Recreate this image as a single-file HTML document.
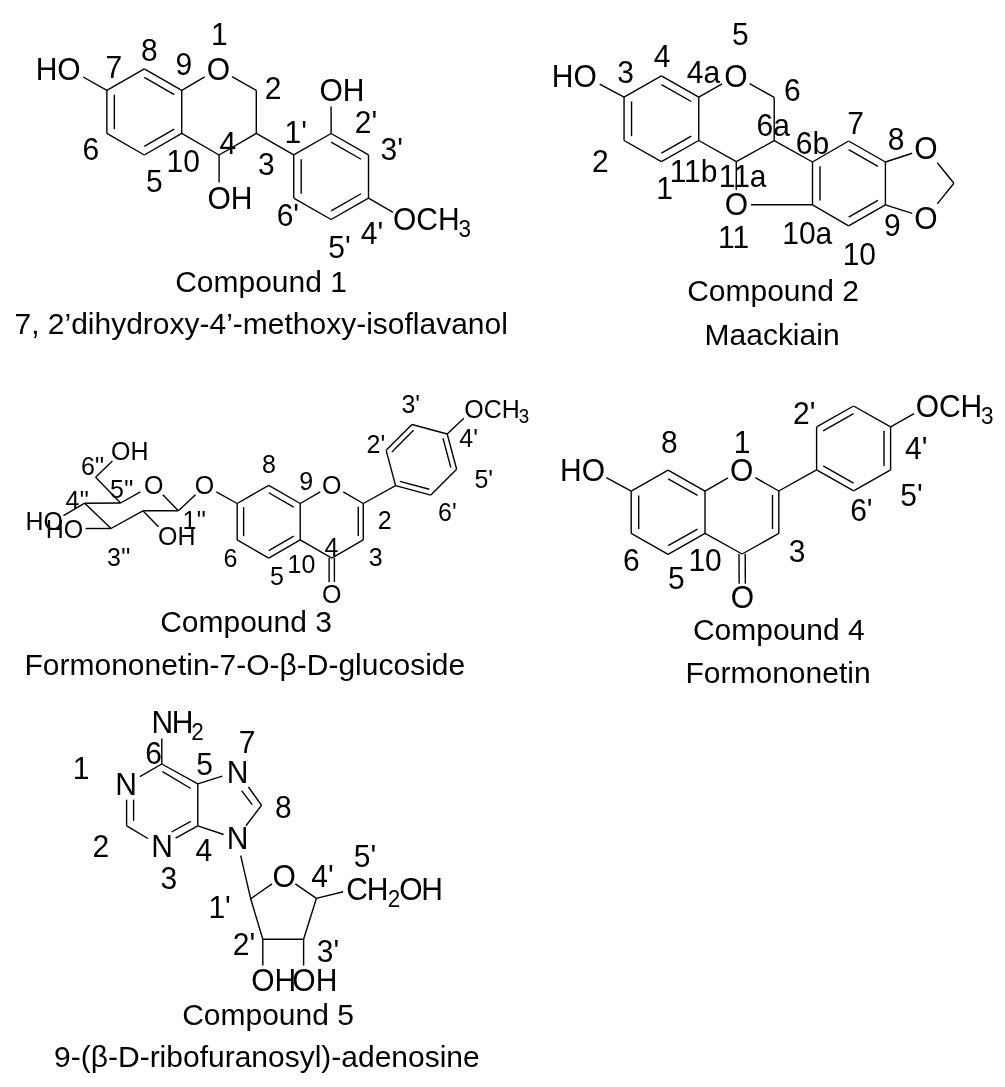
<!DOCTYPE html>
<html lang="en"><head><meta charset="utf-8"><title>Compounds 1-5</title>
<style>html,body{margin:0;padding:0;background:#fff}body{width:1005px;height:1087px;overflow:hidden}svg{display:block}text{font-family:"Liberation Sans",sans-serif;fill:#000}</style></head><body>
<svg width="1005" height="1087" viewBox="0 0 1005 1087" role="img" aria-label="Chemical structures of compounds 1 to 5">
<rect width="1005" height="1087" fill="#fff"/>
<g stroke="#000" stroke-linecap="butt" fill="none">
<line x1="144.30" y1="68.80" x2="181.75" y2="90.35" stroke-width="1.40"/>
<line x1="181.75" y1="90.35" x2="181.75" y2="133.45" stroke-width="1.40"/>
<line x1="181.75" y1="133.45" x2="144.30" y2="155.00" stroke-width="1.40"/>
<line x1="144.30" y1="155.00" x2="106.85" y2="133.45" stroke-width="1.40"/>
<line x1="106.85" y1="133.45" x2="106.85" y2="90.35" stroke-width="1.40"/>
<line x1="106.85" y1="90.35" x2="144.30" y2="68.80" stroke-width="1.40"/>
<line x1="114.35" y1="94.68" x2="114.35" y2="129.12" stroke-width="1.40"/>
<line x1="144.31" y1="77.46" x2="174.26" y2="94.69" stroke-width="1.40"/>
<line x1="174.26" y1="129.11" x2="144.31" y2="146.34" stroke-width="1.40"/>
<line x1="181.75" y1="90.35" x2="204.69" y2="76.82" stroke-width="1.40"/>
<line x1="232.04" y1="76.59" x2="256.30" y2="90.35" stroke-width="1.40"/>
<line x1="256.30" y1="90.35" x2="256.30" y2="133.45" stroke-width="1.40"/>
<line x1="256.30" y1="133.45" x2="219.10" y2="155.00" stroke-width="1.40"/>
<line x1="219.10" y1="155.00" x2="181.75" y2="133.45" stroke-width="1.40"/>
<line x1="106.85" y1="90.35" x2="83.20" y2="77.01" stroke-width="1.40"/>
<line x1="219.10" y1="155.00" x2="219.10" y2="182.60" stroke-width="1.40"/>
<line x1="331.10" y1="133.50" x2="368.50" y2="154.90" stroke-width="1.40"/>
<line x1="368.50" y1="154.90" x2="368.50" y2="198.10" stroke-width="1.40"/>
<line x1="368.50" y1="198.10" x2="331.10" y2="219.50" stroke-width="1.40"/>
<line x1="331.10" y1="219.50" x2="293.70" y2="198.10" stroke-width="1.40"/>
<line x1="293.70" y1="198.10" x2="293.70" y2="154.90" stroke-width="1.40"/>
<line x1="293.70" y1="154.90" x2="331.10" y2="133.50" stroke-width="1.40"/>
<line x1="301.20" y1="159.23" x2="301.20" y2="193.77" stroke-width="1.40"/>
<line x1="331.13" y1="142.16" x2="361.02" y2="159.26" stroke-width="1.40"/>
<line x1="361.02" y1="193.74" x2="331.13" y2="210.84" stroke-width="1.40"/>
<line x1="256.30" y1="133.45" x2="293.70" y2="154.90" stroke-width="1.40"/>
<line x1="331.10" y1="133.50" x2="331.10" y2="106.40" stroke-width="1.40"/>
<line x1="368.50" y1="198.10" x2="393.04" y2="212.40" stroke-width="1.40"/>
<line x1="661.40" y1="75.90" x2="698.75" y2="97.10" stroke-width="1.40"/>
<line x1="698.75" y1="97.10" x2="698.75" y2="140.50" stroke-width="1.40"/>
<line x1="698.75" y1="140.50" x2="661.40" y2="161.70" stroke-width="1.40"/>
<line x1="661.40" y1="161.70" x2="624.05" y2="140.50" stroke-width="1.40"/>
<line x1="624.05" y1="140.50" x2="624.05" y2="97.10" stroke-width="1.40"/>
<line x1="624.05" y1="97.10" x2="661.40" y2="75.90" stroke-width="1.40"/>
<line x1="631.55" y1="101.43" x2="631.55" y2="136.17" stroke-width="1.40"/>
<line x1="661.46" y1="84.56" x2="691.28" y2="101.49" stroke-width="1.40"/>
<line x1="691.28" y1="136.11" x2="661.46" y2="153.04" stroke-width="1.40"/>
<line x1="698.75" y1="97.10" x2="722.07" y2="83.82" stroke-width="1.40"/>
<line x1="749.60" y1="83.69" x2="774.20" y2="97.40" stroke-width="1.40"/>
<line x1="774.20" y1="97.40" x2="774.20" y2="140.70" stroke-width="1.40"/>
<line x1="774.20" y1="140.70" x2="736.30" y2="161.60" stroke-width="1.40"/>
<line x1="736.30" y1="161.60" x2="698.75" y2="140.50" stroke-width="1.40"/>
<line x1="624.05" y1="97.10" x2="599.65" y2="84.07" stroke-width="1.40"/>
<line x1="736.30" y1="161.60" x2="736.30" y2="189.90" stroke-width="1.40"/>
<line x1="848.60" y1="141.00" x2="885.40" y2="162.00" stroke-width="1.40"/>
<line x1="885.40" y1="162.00" x2="885.40" y2="204.80" stroke-width="1.40"/>
<line x1="885.40" y1="204.80" x2="848.60" y2="225.80" stroke-width="1.40"/>
<line x1="848.60" y1="225.80" x2="812.50" y2="204.80" stroke-width="1.40"/>
<line x1="812.50" y1="204.80" x2="812.50" y2="162.00" stroke-width="1.40"/>
<line x1="812.50" y1="162.00" x2="848.60" y2="141.00" stroke-width="1.40"/>
<line x1="820.00" y1="166.33" x2="820.00" y2="200.47" stroke-width="1.40"/>
<line x1="848.64" y1="149.66" x2="877.92" y2="166.37" stroke-width="1.40"/>
<line x1="877.92" y1="200.43" x2="848.64" y2="217.14" stroke-width="1.40"/>
<line x1="774.20" y1="140.70" x2="812.50" y2="162.00" stroke-width="1.40"/>
<line x1="751.00" y1="204.80" x2="812.50" y2="204.80" stroke-width="1.40"/>
<line x1="885.40" y1="162.00" x2="912.22" y2="153.21" stroke-width="1.40"/>
<line x1="885.40" y1="204.80" x2="912.20" y2="213.45" stroke-width="1.40"/>
<line x1="937.30" y1="162.71" x2="953.90" y2="183.30" stroke-width="1.40"/>
<line x1="937.30" y1="203.89" x2="953.90" y2="183.30" stroke-width="1.40"/>
<line x1="268.70" y1="485.30" x2="300.22" y2="503.50" stroke-width="1.40"/>
<line x1="300.22" y1="503.50" x2="300.22" y2="539.90" stroke-width="1.40"/>
<line x1="300.22" y1="539.90" x2="268.70" y2="558.10" stroke-width="1.40"/>
<line x1="268.70" y1="558.10" x2="237.18" y2="539.90" stroke-width="1.40"/>
<line x1="237.18" y1="539.90" x2="237.18" y2="503.50" stroke-width="1.40"/>
<line x1="237.18" y1="503.50" x2="268.70" y2="485.30" stroke-width="1.40"/>
<line x1="243.63" y1="507.22" x2="243.63" y2="536.18" stroke-width="1.40"/>
<line x1="268.70" y1="492.75" x2="293.77" y2="507.22" stroke-width="1.40"/>
<line x1="293.77" y1="536.18" x2="268.70" y2="550.65" stroke-width="1.40"/>
<line x1="300.22" y1="503.50" x2="320.23" y2="491.95" stroke-width="1.40"/>
<line x1="343.26" y1="491.95" x2="363.27" y2="503.50" stroke-width="1.40"/>
<line x1="363.27" y1="503.50" x2="363.27" y2="539.90" stroke-width="1.40"/>
<line x1="363.27" y1="539.90" x2="331.75" y2="558.10" stroke-width="1.40"/>
<line x1="331.75" y1="558.10" x2="300.22" y2="539.90" stroke-width="1.40"/>
<line x1="358.27" y1="506.80" x2="358.27" y2="536.00" stroke-width="1.40"/>
<line x1="334.40" y1="558.10" x2="334.40" y2="582.00" stroke-width="1.40"/>
<line x1="329.10" y1="558.10" x2="329.10" y2="582.00" stroke-width="1.40"/>
<line x1="395.59" y1="485.61" x2="386.14" y2="450.35" stroke-width="1.40"/>
<line x1="386.14" y1="450.35" x2="411.95" y2="424.54" stroke-width="1.40"/>
<line x1="411.95" y1="424.54" x2="447.21" y2="433.99" stroke-width="1.40"/>
<line x1="447.21" y1="433.99" x2="456.66" y2="469.25" stroke-width="1.40"/>
<line x1="456.66" y1="469.25" x2="430.85" y2="495.06" stroke-width="1.40"/>
<line x1="430.85" y1="495.06" x2="395.59" y2="485.61" stroke-width="1.40"/>
<line x1="391.94" y1="451.91" x2="413.51" y2="430.34" stroke-width="1.40"/>
<line x1="442.96" y1="438.24" x2="450.86" y2="467.69" stroke-width="1.40"/>
<line x1="429.29" y1="489.26" x2="399.84" y2="481.36" stroke-width="1.40"/>
<line x1="363.27" y1="503.50" x2="395.59" y2="485.61" stroke-width="1.40"/>
<line x1="447.21" y1="433.99" x2="463.84" y2="418.23" stroke-width="1.40"/>
<line x1="216.30" y1="491.80" x2="237.18" y2="503.50" stroke-width="1.40"/>
<line x1="178.40" y1="510.80" x2="195.50" y2="494.70" stroke-width="1.40"/>
<line x1="178.40" y1="510.80" x2="142.90" y2="510.80" stroke-width="1.40"/>
<line x1="142.90" y1="510.80" x2="111.00" y2="528.50" stroke-width="1.40"/>
<line x1="111.00" y1="528.50" x2="84.70" y2="503.20" stroke-width="1.40"/>
<line x1="84.70" y1="503.20" x2="120.60" y2="503.00" stroke-width="1.40"/>
<line x1="120.60" y1="503.00" x2="140.40" y2="491.80" stroke-width="1.40"/>
<line x1="162.80" y1="494.70" x2="178.40" y2="510.80" stroke-width="1.40"/>
<line x1="120.60" y1="503.00" x2="95.60" y2="477.30" stroke-width="1.40"/>
<line x1="95.60" y1="477.30" x2="112.40" y2="461.10" stroke-width="1.40"/>
<line x1="84.70" y1="503.20" x2="63.50" y2="515.60" stroke-width="1.40"/>
<line x1="111.00" y1="528.50" x2="85.60" y2="528.50" stroke-width="1.40"/>
<line x1="142.90" y1="510.80" x2="158.50" y2="526.80" stroke-width="1.40"/>
<line x1="668.10" y1="470.15" x2="705.00" y2="491.10" stroke-width="1.40"/>
<line x1="705.00" y1="491.10" x2="705.00" y2="533.40" stroke-width="1.40"/>
<line x1="705.00" y1="533.40" x2="668.10" y2="554.35" stroke-width="1.40"/>
<line x1="668.10" y1="554.35" x2="631.20" y2="533.40" stroke-width="1.40"/>
<line x1="631.20" y1="533.40" x2="631.20" y2="491.10" stroke-width="1.40"/>
<line x1="631.20" y1="491.10" x2="668.10" y2="470.15" stroke-width="1.40"/>
<line x1="638.70" y1="495.43" x2="638.70" y2="529.07" stroke-width="1.40"/>
<line x1="668.16" y1="478.81" x2="697.53" y2="495.48" stroke-width="1.40"/>
<line x1="697.53" y1="529.02" x2="668.16" y2="545.69" stroke-width="1.40"/>
<line x1="705.00" y1="491.10" x2="728.02" y2="477.80" stroke-width="1.40"/>
<line x1="755.43" y1="477.71" x2="778.80" y2="491.00" stroke-width="1.40"/>
<line x1="778.80" y1="491.00" x2="778.80" y2="533.40" stroke-width="1.40"/>
<line x1="778.80" y1="533.40" x2="742.10" y2="554.00" stroke-width="1.40"/>
<line x1="742.10" y1="554.00" x2="705.00" y2="533.40" stroke-width="1.40"/>
<line x1="772.50" y1="495.00" x2="772.50" y2="529.10" stroke-width="1.40"/>
<line x1="745.20" y1="553.99" x2="745.34" y2="583.69" stroke-width="1.40"/>
<line x1="739.00" y1="554.01" x2="739.14" y2="583.71" stroke-width="1.40"/>
<line x1="631.20" y1="491.10" x2="606.30" y2="477.57" stroke-width="1.40"/>
<line x1="853.60" y1="406.00" x2="890.60" y2="426.95" stroke-width="1.40"/>
<line x1="890.60" y1="426.95" x2="890.60" y2="469.85" stroke-width="1.40"/>
<line x1="890.60" y1="469.85" x2="853.60" y2="490.80" stroke-width="1.40"/>
<line x1="853.60" y1="490.80" x2="816.60" y2="469.85" stroke-width="1.40"/>
<line x1="816.60" y1="469.85" x2="816.60" y2="426.95" stroke-width="1.40"/>
<line x1="816.60" y1="426.95" x2="853.60" y2="406.00" stroke-width="1.40"/>
<line x1="823.17" y1="430.82" x2="853.54" y2="413.62" stroke-width="1.40"/>
<line x1="884.00" y1="430.76" x2="884.00" y2="466.04" stroke-width="1.40"/>
<line x1="853.54" y1="483.18" x2="823.17" y2="465.98" stroke-width="1.40"/>
<line x1="778.80" y1="491.00" x2="816.60" y2="469.85" stroke-width="1.40"/>
<line x1="890.60" y1="426.95" x2="914.08" y2="413.61" stroke-width="1.40"/>
<line x1="139.80" y1="776.70" x2="161.80" y2="764.00" stroke-width="1.40"/>
<line x1="161.80" y1="764.00" x2="197.80" y2="783.90" stroke-width="1.40"/>
<line x1="197.80" y1="783.90" x2="197.80" y2="825.80" stroke-width="1.40"/>
<line x1="197.80" y1="825.80" x2="175.60" y2="838.20" stroke-width="1.40"/>
<line x1="147.90" y1="838.50" x2="126.60" y2="825.80" stroke-width="1.40"/>
<line x1="126.60" y1="825.80" x2="126.60" y2="799.70" stroke-width="1.40"/>
<line x1="162.50" y1="771.70" x2="190.80" y2="788.50" stroke-width="1.40"/>
<line x1="190.80" y1="821.40" x2="171.50" y2="832.00" stroke-width="1.40"/>
<line x1="133.60" y1="820.80" x2="133.60" y2="799.70" stroke-width="1.40"/>
<line x1="197.80" y1="783.90" x2="222.30" y2="776.10" stroke-width="1.40"/>
<line x1="223.60" y1="834.50" x2="197.80" y2="825.80" stroke-width="1.40"/>
<line x1="248.40" y1="787.00" x2="261.60" y2="805.30" stroke-width="1.40"/>
<line x1="241.60" y1="790.70" x2="252.20" y2="804.70" stroke-width="1.40"/>
<line x1="261.60" y1="805.30" x2="245.90" y2="825.80" stroke-width="1.40"/>
<line x1="161.80" y1="764.00" x2="161.80" y2="738.40" stroke-width="1.40"/>
<line x1="240.70" y1="855.70" x2="250.70" y2="898.80" stroke-width="1.40"/>
<line x1="250.70" y1="898.80" x2="272.00" y2="883.90" stroke-width="1.40"/>
<line x1="295.30" y1="883.90" x2="316.40" y2="898.40" stroke-width="1.40"/>
<line x1="316.40" y1="898.40" x2="303.60" y2="939.20" stroke-width="1.40"/>
<line x1="303.60" y1="939.20" x2="262.80" y2="939.20" stroke-width="1.40"/>
<line x1="262.80" y1="939.20" x2="250.70" y2="898.80" stroke-width="1.40"/>
<line x1="262.80" y1="939.20" x2="262.80" y2="965.50" stroke-width="1.40"/>
<line x1="303.60" y1="939.20" x2="303.60" y2="965.50" stroke-width="1.40"/>
<line x1="316.40" y1="898.40" x2="343.20" y2="891.70" stroke-width="1.40"/>
</g>
<g id="labels" opacity="0.999">
<text transform="translate(206.64 79.54) scale(1 1.040)" font-size="30.00">O</text>
<text transform="translate(35.67 79.74) scale(1 1.040)" font-size="30.00">HO</text>
<text transform="translate(207.44 208.84) scale(1 1.040)" font-size="30.00">OH</text>
<text transform="translate(319.44 101.14) scale(1 1.040)" font-size="30.00">OH</text>
<text transform="translate(393.04 229.94) scale(1 1.040)" font-size="30.00">OCH<tspan font-size="22.50" dx="-1.20" dy="6.81">3</tspan></text>
<text transform="translate(211.08 44.54) scale(1 1.040)" font-size="30.00">1</text>
<text transform="translate(264.84 99.14) scale(1 1.040)" font-size="30.00">2</text>
<text transform="translate(257.90 174.74) scale(1 1.040)" font-size="30.00">3</text>
<text transform="translate(219.54 153.74) scale(1 1.040)" font-size="30.00">4</text>
<text transform="translate(145.89 191.74) scale(1 1.040)" font-size="30.00">5</text>
<text transform="translate(82.55 160.24) scale(1 1.040)" font-size="30.00">6</text>
<text transform="translate(105.58 78.24) scale(1 1.040)" font-size="30.00">7</text>
<text transform="translate(140.88 60.84) scale(1 1.040)" font-size="30.00">8</text>
<text transform="translate(175.39 75.49) scale(1 1.040)" font-size="30.00">9</text>
<text transform="translate(166.56 171.74) scale(1 1.040)" font-size="30.00">10</text>
<text transform="translate(284.57 143.24) scale(1 1.040)" font-size="30.00">1'</text>
<text transform="translate(354.76 133.24) scale(1 1.040)" font-size="30.00">2'</text>
<text transform="translate(380.57 160.49) scale(1 1.040)" font-size="30.00">3'</text>
<text transform="translate(360.86 244.44) scale(1 1.040)" font-size="30.00">4'</text>
<text transform="translate(328.33 257.74) scale(1 1.040)" font-size="30.00">5'</text>
<text transform="translate(276.64 225.74) scale(1 1.040)" font-size="30.00">6'</text>
<text transform="translate(175.18 292.00) scale(1 1.012)" font-size="30.00">Compound 1</text>
<text transform="translate(14.46 334.50) scale(1 1.012)" font-size="30.00">7, 2’dihydroxy-4’-methoxy-isoflavanol</text>
<text transform="translate(724.14 86.74) scale(1 1.040)" font-size="30.00">O</text>
<text transform="translate(551.77 87.04) scale(1 1.040)" font-size="30.00">HO</text>
<text transform="translate(724.64 215.44) scale(1 1.040)" font-size="30.00">O</text>
<text transform="translate(914.34 159.44) scale(1 1.040)" font-size="30.00">O</text>
<text transform="translate(914.34 228.64) scale(1 1.040)" font-size="30.00">O</text>
<text transform="translate(656.13 198.74) scale(1 1.040)" font-size="30.00">1</text>
<text transform="translate(592.04 171.64) scale(1 1.040)" font-size="30.00">2</text>
<text transform="translate(617.35 83.14) scale(1 1.040)" font-size="30.00">3</text>
<text transform="translate(653.74 66.54) scale(1 1.040)" font-size="30.00">4</text>
<text transform="translate(731.99 44.99) scale(1 1.040)" font-size="30.00">5</text>
<text transform="translate(686.86 83.04) scale(1 1.040)" font-size="30.00">4a</text>
<text transform="translate(783.95 100.74) scale(1 1.040)" font-size="30.00">6</text>
<text transform="translate(756.49 136.49) scale(1 1.040)" font-size="30.00">6a</text>
<text transform="translate(795.79 153.84) scale(1 1.040)" font-size="30.00">6b</text>
<text transform="translate(847.23 133.74) scale(1 1.040)" font-size="30.00">7</text>
<text transform="translate(887.68 149.74) scale(1 1.040)" font-size="30.00">8</text>
<text transform="translate(883.89 236.24) scale(1 1.040)" font-size="30.00">9</text>
<text transform="translate(842.66 265.24) scale(1 1.040)" font-size="30.00">10</text>
<text transform="translate(782.23 244.44) scale(1 1.040)" font-size="30.00">10a</text>
<text transform="translate(669.63 181.74) scale(1 1.040)" font-size="30.00">11b</text>
<text transform="translate(718.73 186.74) scale(1 1.040)" font-size="30.00">11a</text>
<text transform="translate(717.94 248.24) scale(1 1.040)" font-size="30.00">11</text>
<text transform="translate(687.18 301.00) scale(1 1.012)" font-size="30.00">Compound 2</text>
<text transform="translate(704.54 344.50) scale(1 1.012)" font-size="30.00">Maackiain</text>
<text transform="translate(322.03 494.25) scale(1 1.040)" font-size="25.00">O</text>
<text transform="translate(322.03 602.65) scale(1 1.040)" font-size="25.00">O</text>
<text transform="translate(464.28 417.55) scale(1 1.040)" font-size="25.00">OCH<tspan font-size="18.75" dx="-1.00" dy="5.67">3</tspan></text>
<text transform="translate(194.78 493.95) scale(1 1.040)" font-size="25.00">O</text>
<text transform="translate(143.88 493.95) scale(1 1.040)" font-size="25.00">O</text>
<text transform="translate(111.08 460.45) scale(1 1.040)" font-size="25.00">OH</text>
<text transform="translate(25.43 530.25) scale(1 1.040)" font-size="25.00">HO</text>
<text transform="translate(45.73 538.05) scale(1 1.040)" font-size="25.00">HO</text>
<text transform="translate(158.08 544.85) scale(1 1.040)" font-size="25.00">OH</text>
<text transform="translate(80.95 474.80) scale(1 1.040)" font-size="25.00">6''</text>
<text transform="translate(110.01 498.25) scale(1 1.040)" font-size="25.00">5''</text>
<text transform="translate(65.52 508.65) scale(1 1.040)" font-size="25.00">4''</text>
<text transform="translate(182.51 528.80) scale(1 1.040)" font-size="25.00">1''</text>
<text transform="translate(107.05 566.30) scale(1 1.040)" font-size="25.00">3''</text>
<text transform="translate(223.38 567.35) scale(1 1.040)" font-size="25.00">6</text>
<text transform="translate(262.07 473.45) scale(1 1.040)" font-size="25.00">8</text>
<text transform="translate(299.28 490.45) scale(1 1.040)" font-size="25.00">9</text>
<text transform="translate(270.03 584.95) scale(1 1.040)" font-size="25.00">5</text>
<text transform="translate(287.61 573.45) scale(1 1.040)" font-size="25.00">10</text>
<text transform="translate(324.62 555.70) scale(1 1.040)" font-size="25.00">4</text>
<text transform="translate(377.70 529.15) scale(1 1.040)" font-size="25.00">2</text>
<text transform="translate(368.79 566.30) scale(1 1.040)" font-size="25.00">3</text>
<text transform="translate(366.59 452.95) scale(1 1.040)" font-size="25.00">2'</text>
<text transform="translate(401.44 413.45) scale(1 1.040)" font-size="25.00">3'</text>
<text transform="translate(459.30 446.70) scale(1 1.040)" font-size="25.00">4'</text>
<text transform="translate(474.44 488.45) scale(1 1.040)" font-size="25.00">5'</text>
<text transform="translate(438.09 521.15) scale(1 1.040)" font-size="25.00">6'</text>
<text transform="translate(160.18 631.70) scale(1 1.012)" font-size="30.00">Compound 3</text>
<text transform="translate(24.54 675.00) scale(1 1.012)" font-size="30.00">Formononetin-7-O-β-D-glucoside</text>
<text transform="translate(730.04 480.64) scale(1 1.040)" font-size="30.00">O</text>
<text transform="translate(730.64 608.44) scale(1 1.040)" font-size="30.00">O</text>
<text transform="translate(559.97 481.24) scale(1 1.040)" font-size="30.00">HO</text>
<text transform="translate(915.64 416.84) scale(1 1.040)" font-size="30.00">OCH<tspan font-size="22.50" dx="-1.20" dy="6.81">3</tspan></text>
<text transform="translate(733.78 452.99) scale(1 1.040)" font-size="30.00">1</text>
<text transform="translate(660.93 452.99) scale(1 1.040)" font-size="30.00">8</text>
<text transform="translate(622.95 570.99) scale(1 1.040)" font-size="30.00">6</text>
<text transform="translate(667.89 589.44) scale(1 1.040)" font-size="30.00">5</text>
<text transform="translate(688.41 571.24) scale(1 1.040)" font-size="30.00">10</text>
<text transform="translate(788.65 561.74) scale(1 1.040)" font-size="30.00">3</text>
<text transform="translate(793.01 424.44) scale(1 1.040)" font-size="30.00">2'</text>
<text transform="translate(905.01 459.44) scale(1 1.040)" font-size="30.00">4'</text>
<text transform="translate(900.33 506.24) scale(1 1.040)" font-size="30.00">5'</text>
<text transform="translate(850.14 520.99) scale(1 1.040)" font-size="30.00">6'</text>
<text transform="translate(692.88 640.00) scale(1 1.012)" font-size="30.00">Compound 4</text>
<text transform="translate(685.54 683.00) scale(1 1.012)" font-size="30.00">Formononetin</text>
<text transform="translate(115.36 794.64) scale(1 1.040)" font-size="30.00">N</text>
<text transform="translate(151.26 856.74) scale(1 1.040)" font-size="30.00">N</text>
<text transform="translate(226.66 782.54) scale(1 1.040)" font-size="30.00">N</text>
<text transform="translate(226.66 848.94) scale(1 1.040)" font-size="30.00">N</text>
<text transform="translate(0.00 732.90) scale(1 1.040)" font-size="30.00"><tspan x="151.44" y="0">N</tspan><tspan x="171.84" y="0">H</tspan><tspan x="191.37" y="6.55" font-size="22.50">2</tspan></text>
<text transform="translate(272.54 886.54) scale(1 1.040)" font-size="30.00">O</text>
<text transform="translate(251.24 991.14) scale(1 1.040)" font-size="30.00">OH</text>
<text transform="translate(292.34 991.14) scale(1 1.040)" font-size="30.00">OH</text>
<text transform="translate(0.00 899.70) scale(1 1.040)" font-size="30.00"><tspan x="346.18" y="0">C</tspan><tspan x="366.64" y="0">H</tspan><tspan x="387.67" y="6.55" font-size="22.50">2</tspan><tspan x="399.18" y="0">O</tspan><tspan x="421.34" y="0">H</tspan></text>
<text transform="translate(72.63 779.09) scale(1 1.040)" font-size="30.00">1</text>
<text transform="translate(92.44 856.59) scale(1 1.040)" font-size="30.00">2</text>
<text transform="translate(160.50 889.44) scale(1 1.040)" font-size="30.00">3</text>
<text transform="translate(195.39 860.99) scale(1 1.040)" font-size="30.00">4</text>
<text transform="translate(196.14 775.24) scale(1 1.040)" font-size="30.00">5</text>
<text transform="translate(145.20 764.44) scale(1 1.040)" font-size="30.00">6</text>
<text transform="translate(238.73 753.24) scale(1 1.040)" font-size="30.00">7</text>
<text transform="translate(275.03 817.59) scale(1 1.040)" font-size="30.00">8</text>
<text transform="translate(208.42 917.74) scale(1 1.040)" font-size="30.00">1'</text>
<text transform="translate(232.71 954.74) scale(1 1.040)" font-size="30.00">2'</text>
<text transform="translate(316.82 961.74) scale(1 1.040)" font-size="30.00">3'</text>
<text transform="translate(311.36 886.74) scale(1 1.040)" font-size="30.00">4'</text>
<text transform="translate(353.83 867.24) scale(1 1.040)" font-size="30.00">5'</text>
<text transform="translate(182.18 1024.50) scale(1 1.012)" font-size="30.00">Compound 5</text>
<text transform="translate(54.09 1067.00) scale(1 1.012)" font-size="30.00">9-(β-D-ribofuranosyl)-adenosine</text>
</g>
</svg></body></html>
